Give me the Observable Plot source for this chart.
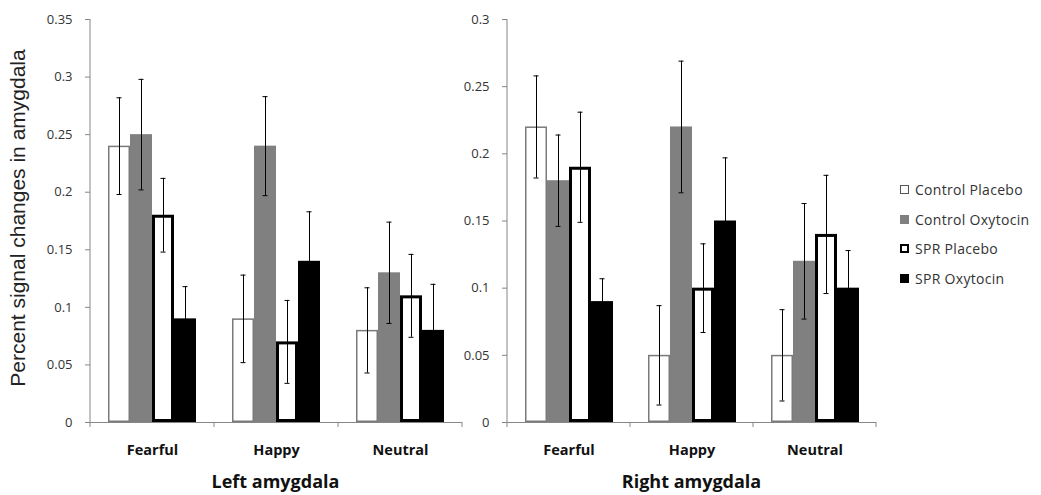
<!DOCTYPE html>
<html>
<head>
<meta charset="utf-8">
<script src="https://cdn.jsdelivr.net/npm/d3@7"></script>
<script src="https://cdn.jsdelivr.net/npm/@observablehq/plot@0.6"></script>
<style>
  body { margin: 0; background: #fff; }
  #fig { position: relative; width: 1041px; height: 495px; overflow: hidden; }
  #left, #right { position: absolute; top: 0; }
  #left { left: 0; }
  #right { left: 440px; }
  .ylabel {
    position: absolute; left: -182px; top: 206px; width: 400px; height: 24px;
    line-height: 24px; text-align: center; transform: rotate(-90deg);
    font: 21px "Liberation Sans", Arial, sans-serif; color: #222; white-space: nowrap;
  }
  .title {
    position: absolute; top: 469px; height: 22px; line-height: 22px; text-align: center;
    font: bold 18px "Open Sans", sans-serif; color: #111;
  }
  .legend { position: absolute; left: 900px; top: 175px; font: 14px "Open Sans", sans-serif; letter-spacing: 0.3px; color: #333; }
  .legend .row { display: flex; align-items: center; height: 29.5px; }
  .legend .sw { width: 9px; height: 9px; box-sizing: border-box; margin-right: 6px; }
</style>
</head>
<body>
<div id="fig">
  <div class="ylabel">Percent signal changes in amygdala</div>
  <div id="left"></div>
  <div id="right"></div>
  <div class="title" style="left:89px;width:373px">Left amygdala</div>
  <div class="title" style="left:507px;width:369px">Right amygdala</div>
  <div class="legend" id="legend"></div>
</div>
<script>
const emotions = ["Fearful", "Happy", "Neutral"];
const groups = ["Control Placebo", "Control Oxytocin", "SPR Placebo", "SPR Oxytocin"];

// Left amygdala: mean percent signal change (Fearful, Happy, Neutral)
const leftControlPlacebo  = [0.24, 0.09, 0.08];
const leftControlOxytocin = [0.25, 0.24, 0.13];
const leftSprPlacebo      = [0.18, 0.07, 0.11];
const leftSprOxytocin     = [0.09, 0.14, 0.08];
// Left amygdala: standard errors
const leftErrControlPlacebo  = [0.042, 0.038, 0.037];
const leftErrControlOxytocin = [0.048, 0.043, 0.044];
const leftErrSprPlacebo      = [0.032, 0.036, 0.036];
const leftErrSprOxytocin     = [0.028, 0.043, 0.040];

// Right amygdala: mean percent signal change (Fearful, Happy, Neutral)
const rightControlPlacebo  = [0.22, 0.05, 0.05];
const rightControlOxytocin = [0.18, 0.22, 0.12];
const rightSprPlacebo      = [0.19, 0.10, 0.14];
const rightSprOxytocin     = [0.09, 0.15, 0.10];
// Right amygdala: standard errors
const rightErrControlPlacebo  = [0.038, 0.037, 0.034];
const rightErrControlOxytocin = [0.034, 0.049, 0.043];
const rightErrSprPlacebo      = [0.041, 0.033, 0.044];
const rightErrSprOxytocin     = [0.017, 0.047, 0.028];

const leftTicks  = [0, 0.05, 0.1, 0.15, 0.2, 0.25, 0.3, 0.35];
const rightTicks = [0, 0.05, 0.1, 0.15, 0.2, 0.25, 0.3];

// Bar appearance for each group, in the same order as `groups`
const groupStyles = [
  {fill: "white", stroke: "#7a7a7a", strokeWidth: 1.5, inset: 0.75},
  {fill: "#808080"},
  {fill: "white", stroke: "black", strokeWidth: 3, inset: 1.5},
  {fill: "black"}
];

function rows(means, errors) {
  return groups.flatMap((group, gi) =>
    emotions.map((emotion, ei) => ({emotion, group, mean: means[gi][ei], err: errors[gi][ei]})));
}

const axisGray = "#868686";

function panel(data, ticks, {width, marginLeft, marginRight}) {
  const plot = Plot.plot({
    width, height: 462, marginTop: 19, marginBottom: 40, marginLeft, marginRight,
    style: {fontFamily: "'Open Sans', sans-serif", fontSize: "13px", background: "transparent", overflow: "visible"},
    fx: {domain: emotions, padding: 0},
    x: {domain: groups, paddingInner: 0, paddingOuter: 0.73, axis: null},
    y: {domain: [0, d3.max(ticks)]},
    marks: [
      ...groups.map((g, i) => Plot.barY(data.filter(d => d.group === g),
        {fx: "emotion", x: "group", y: "mean", ...groupStyles[i]})),
      Plot.ruleY([0], {stroke: axisGray}),
      Plot.ruleX(data, {fx: "emotion", x: "group", y1: d => d.mean - d.err, y2: d => d.mean + d.err, stroke: "black"}),
      Plot.tickY(data, {fx: "emotion", x: "group", y: d => d.mean - d.err, stroke: "black", insetLeft: 8.5, insetRight: 8.5}),
      Plot.tickY(data, {fx: "emotion", x: "group", y: d => d.mean + d.err, stroke: "black", insetLeft: 8.5, insetRight: 8.5}),
      Plot.axisY({ticks, tickFormat: d3.format("~g"), tickSize: 5, tickPadding: 13, stroke: axisGray, fill: "#333", label: null}),
      Plot.axisFx({anchor: "bottom", tickSize: 0, tickPadding: 22, fontSize: 14.5, fontWeight: "bold", fill: "#111", label: null})
    ]
  });

  // Axis line and category separator ticks, placed with the plot's own scales
  const fx = plot.scale("fx"), y = plot.scale("y");
  const edges = [...emotions.map(e => fx.apply(e)), fx.apply(emotions[emotions.length - 1]) + fx.bandwidth];
  const g = d3.select(plot).append("g").attr("stroke", axisGray).attr("fill", "none");
  const y0 = y.apply(0);
  g.append("line").attr("x1", edges[0]).attr("x2", edges[0]).attr("y1", y.apply(d3.max(ticks))).attr("y2", y0 + 5);
  for (const x of edges.slice(1)) {
    g.append("line").attr("x1", x).attr("x2", x).attr("y1", y0).attr("y2", y0 + 5);
  }
  return plot;
}

document.getElementById("left").append(panel(
  rows([leftControlPlacebo, leftControlOxytocin, leftSprPlacebo, leftSprOxytocin],
       [leftErrControlPlacebo, leftErrControlOxytocin, leftErrSprPlacebo, leftErrSprOxytocin]),
  leftTicks, {width: 470, marginLeft: 89, marginRight: 8}));

document.getElementById("right").append(panel(
  rows([rightControlPlacebo, rightControlOxytocin, rightSprPlacebo, rightSprOxytocin],
       [rightErrControlPlacebo, rightErrControlOxytocin, rightErrSprPlacebo, rightErrSprOxytocin]),
  rightTicks, {width: 445, marginLeft: 67, marginRight: 9}));

// Legend
const legend = d3.select("#legend");
groups.forEach((g, i) => {
  const s = groupStyles[i];
  const row = legend.append("div").attr("class", "row");
  row.append("div").attr("class", "sw")
    .style("background", s.fill)
    .style("border", s.stroke ? `${s.strokeWidth === 3 ? 2.5 : 1.5}px solid ${s.stroke === "black" ? "#000" : "#555"}` : "none");
  row.append("span").text(g);
});
</script>
</body>
</html>
